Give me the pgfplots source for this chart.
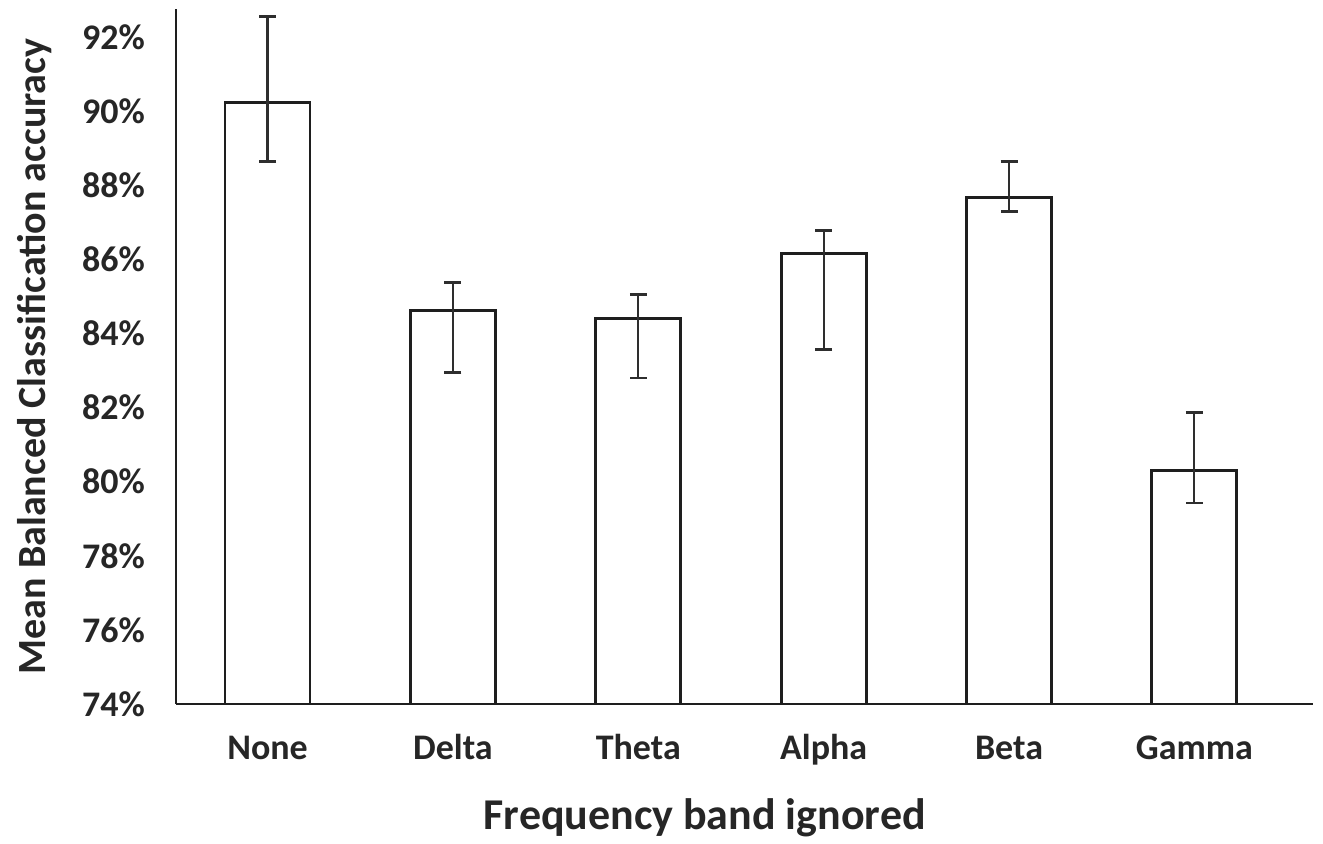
\documentclass[border=0pt]{standalone}
\usepackage{pgfplots}
\pgfplotsset{compat=1.18}
\usepackage{fontspec}
\setmainfont{Carlito}
\definecolor{txt}{HTML}{262626}
\definecolor{barline}{HTML}{1E1E1E}
\definecolor{errc}{HTML}{2E2E2E}
\begin{document}
\begin{tikzpicture}
\useasboundingbox (-88pt,-70pt) rectangle (573.5pt,352pt);
\begin{axis}[
  at={(0pt,0pt)}, anchor=south west,
  scale only axis,
  width=568.5pt, height=347.5pt,
  xmin=-0.494, xmax=5.64,
  ymin=74, ymax=92.75,
  axis x line=bottom, axis y line=left,
  axis line style={-, line width=1pt, color=barline},
  xtick={0,1,2,3,4,5},
  xticklabels={None,Delta,Theta,Alpha,Beta,Gamma},
  ytick={74,76,78,80,82,84,86,88,90,92},
  yticklabel={\pgfmathprintnumber{\tick}\%},
  /pgf/number format/assume math mode=true,
  major tick length=0pt,
  xticklabel style={font=\bfseries\fontsize{18}{20}\selectfont, text=txt, anchor=base, yshift=-27.75pt},
  yticklabel style={font=\bfseries\fontsize{18}{20}\selectfont, text=txt, anchor=east, xshift=-12pt},
  xlabel={Frequency band ignored},
  ylabel={Mean Balanced Classification accuracy},
  xlabel style={font=\bfseries\fontsize{22}{24}\selectfont, text=txt, at={(axis description cs:0.465,-0.164)}, anchor=center},
  ylabel style={font=\bfseries\fontsize{20}{22}\selectfont, text=txt, at={(axis description cs:-0.124,0.5)}, anchor=center},
  ybar, bar width=42.5pt,
]
\addplot[draw=barline, fill=white, line width=1.4pt,
  error bars/.cd, y dir=both, y explicit,
  error bar style={line width=1.1pt, color=errc},
  error mark options={rotate=90, mark size=4.25pt, line width=1.2pt, color=errc}]
coordinates {
  (0,90.23) += (0,2.32) -= (0,1.59)
  (1,84.61) += (0,0.76) -= (0,1.67)
  (2,84.40) += (0,0.65) -= (0,1.60)
  (3,86.15) += (0,0.62) -= (0,2.59)
  (4,87.66) += (0,0.98) -= (0,0.37)
  (5,80.29) += (0,1.57) -= (0,0.86)
};
\end{axis}
\end{tikzpicture}
\end{document}
